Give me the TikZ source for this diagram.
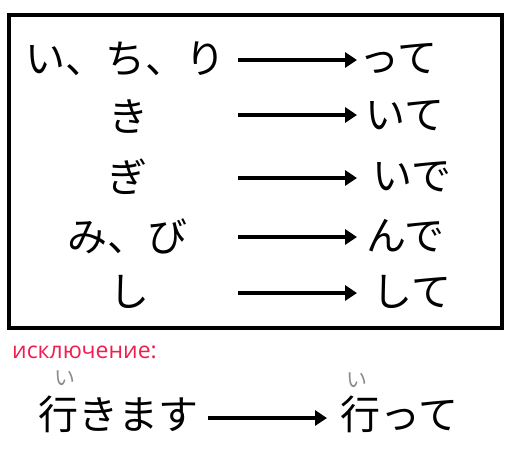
\documentclass[tikz,border=0pt]{standalone}
\usepackage{fontspec}
\setsansfont{Open Sans}
\newfontfamily\jpfont{Noto Sans CJK JP}
\usetikzlibrary{arrows.meta, positioning}

\definecolor{excred}{RGB}{240,30,80}
\definecolor{furigray}{RGB}{140,140,140}

\tikzset{
  kana/.style={inner sep=0pt, font=\jpfont\fontsize{40}{40}\selectfont},
  furi/.style={inner sep=0pt, text=furigray, font=\jpfont\fontsize{21}{21}\selectfont},
  conj/.style={line width=4pt, -{Triangle[length=12pt, width=15pt]}}
}

\begin{document}
\begin{tikzpicture}[x=1pt, y=-1pt]
        \useasboundingbox (0,0) rectangle (513,456);

        % Frame
        \draw[line width=4pt] (9,15) rectangle (502,328);

        % Row 1: i, chi, ri
        \node[kana] (stem1) at (125,59) {い、ち、り};
        \node[kana] (end1) at (398,59) {って};
        \coordinate (from1) at (238,60);
        \coordinate (to1) at (357,60);
        \draw[conj] (from1) -- (to1);

        % Row 2: ki
        \node[kana] (stem2) at (128,116) {き};
        \node[kana] (end2) at (405,116) {いて};
        \coordinate (from2) at (238,115);
        \coordinate (to2) at (357,115);
        \draw[conj] (from2) -- (to2);

        % Row 3: gi
        \node[kana] (stem3) at (127,177) {ぎ};
        \node[kana] (end3) at (412,177) {いで};
        \coordinate (from3) at (238,178);
        \coordinate (to3) at (357,178);
        \draw[conj] (from3) -- (to3);

        % Row 4: mi, bi
        \node[kana] (stem4) at (127,236) {み、び};
        \node[kana] (end4) at (405,236) {んで};
        \coordinate (from4) at (238,237);
        \coordinate (to4) at (357,237);
        \draw[conj] (from4) -- (to4);

        % Row 5: shi
        \node[kana] (stem5) at (129,292) {し};
        \node[kana] (end5) at (412,292) {して};
        \coordinate (from5) at (238,293);
        \coordinate (to5) at (357,293);
        \draw[conj] (from5) -- (to5);

        % Exception
        \node[anchor=west, inner sep=0pt, text=excred, font=\sffamily\fontsize{23}{23}\selectfont] (except) at (12,352) {исключение:};

        % Iku
        \node[kana] (ikimasu) at (118,414) {行きます};
        \node[kana] (itte) at (399,414) {行って};
        \node[furi] (furi1) at (65,378) {い};
        \node[furi] (furi2) at (357,380) {い};
        \coordinate (fromiku) at (208,418);
        \coordinate (toiku) at (327,418);
        \draw[conj] (fromiku) -- (toiku);

    \end{tikzpicture}
\end{document}
